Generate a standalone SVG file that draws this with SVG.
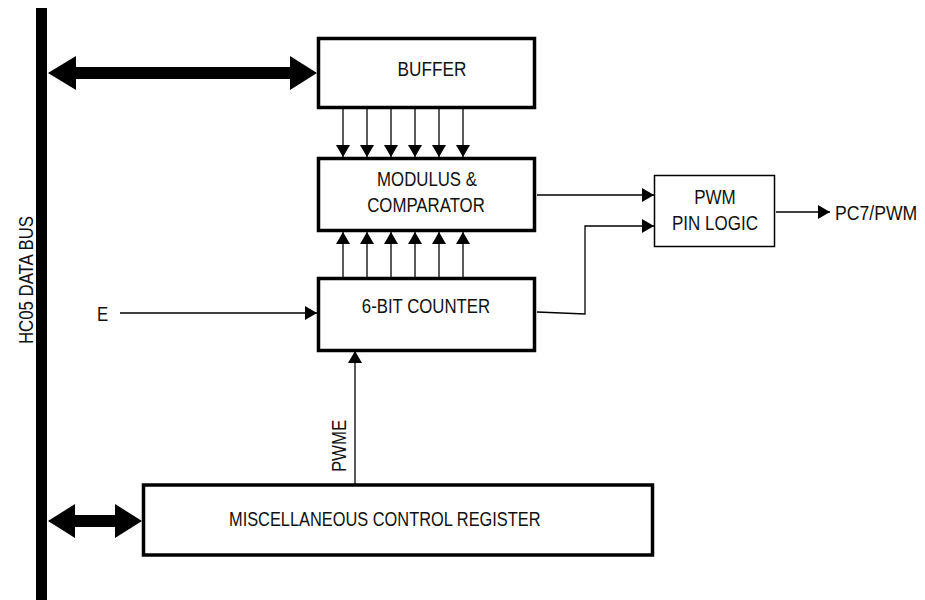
<svg xmlns="http://www.w3.org/2000/svg" width="925" height="600" viewBox="0 0 925 600">
<style>
.box{fill:#fff;stroke:#000;stroke-width:3.5}
.thin{fill:#fff;stroke:#000;stroke-width:1.5}
.ln{fill:none;stroke:#000;stroke-width:1.3}
.t{font-family:"Liberation Sans",Arial,sans-serif;font-size:21px;fill:#111}
.c{text-anchor:middle}
</style>
<defs>
<marker id="ah" viewBox="0 0 12 14" refX="12" refY="7" markerWidth="12" markerHeight="14" markerUnits="userSpaceOnUse" orient="auto">
<path d="M0,0 L12,7 L0,14 Z" fill="#000"/>
</marker>
</defs>
<rect x="0" y="0" width="925" height="600" fill="#fff"/>
<g id="bus">
<rect x="36" y="8" width="11" height="592" fill="#000"/>
<text class="t c" transform="translate(33,280) rotate(-90) scale(0.8,1)">HC05 DATA BUS</text>
</g>
<g id="connectors">
<path d="M48,73 L76,56 L76,67 L290,67 L290,56 L317,73 L290,90 L290,79 L76,79 L76,90 Z" fill="#000"/>
<path d="M48,521 L75,504 L75,515 L115,515 L115,504 L142,521 L115,538 L115,527 L75,527 L75,538 Z" fill="#000"/>
<g class="ln">
<path d="M343,109 V157" marker-end="url(#ah)"/>
<path d="M367,109 V157" marker-end="url(#ah)"/>
<path d="M391,109 V157" marker-end="url(#ah)"/>
<path d="M415,109 V157" marker-end="url(#ah)"/>
<path d="M439,109 V157" marker-end="url(#ah)"/>
<path d="M463,109 V157" marker-end="url(#ah)"/>
<path d="M343,277 V232" marker-end="url(#ah)"/>
<path d="M367,277 V232" marker-end="url(#ah)"/>
<path d="M391,277 V232" marker-end="url(#ah)"/>
<path d="M415,277 V232" marker-end="url(#ah)"/>
<path d="M439,277 V232" marker-end="url(#ah)"/>
<path d="M463,277 V232" marker-end="url(#ah)"/>
<path d="M120,313 H317" marker-end="url(#ah)"/>
<path d="M355,484 V351" marker-end="url(#ah)"/>
<path d="M537,195 H654" marker-end="url(#ah)"/>
<path d="M537,312 L585,314 V226 H654" marker-end="url(#ah)"/>
<path d="M776,212 H830" marker-end="url(#ah)"/>
</g>
</g>
<g id="buffer">
<rect class="box" x="318.5" y="38.5" width="216" height="69"/>
<text class="t c" transform="translate(432,75.5) scale(0.82,1)">BUFFER</text>
</g>
<g id="modulus">
<rect class="box" x="318.5" y="158.5" width="216" height="72"/>
<text class="t c" transform="translate(427,185.5) scale(0.8,1)">MODULUS &amp;</text>
<text class="t c" transform="translate(426,211.5) scale(0.8,1)">COMPARATOR</text>
</g>
<g id="counter">
<rect class="box" x="318.5" y="278.5" width="216" height="72"/>
<text class="t c" transform="translate(426,312.5) scale(0.8,1)">6-BIT COUNTER</text>
</g>
<g id="pwm">
<rect class="thin" x="654.5" y="175.5" width="120" height="71"/>
<text class="t c" transform="translate(715,203.5) scale(0.81,1)">PWM</text>
<text class="t c" transform="translate(715,229.5) scale(0.81,1)">PIN LOGIC</text>
</g>
<g id="misc">
<rect class="box" x="143.5" y="485" width="509" height="70"/>
<text class="t" transform="translate(229,525.5) scale(0.78,1)">MISCELLANEOUS CONTROL REGISTER</text>
</g>
<g id="labels">
<text class="t" transform="translate(97,320.5) scale(0.8,1)">E</text>
<text class="t" transform="translate(835,219.5) scale(0.84,1)">PC7/PWM</text>
<text class="t c" transform="translate(346,446) rotate(-90) scale(0.8,1)">PWME</text>
</g>
</svg>
